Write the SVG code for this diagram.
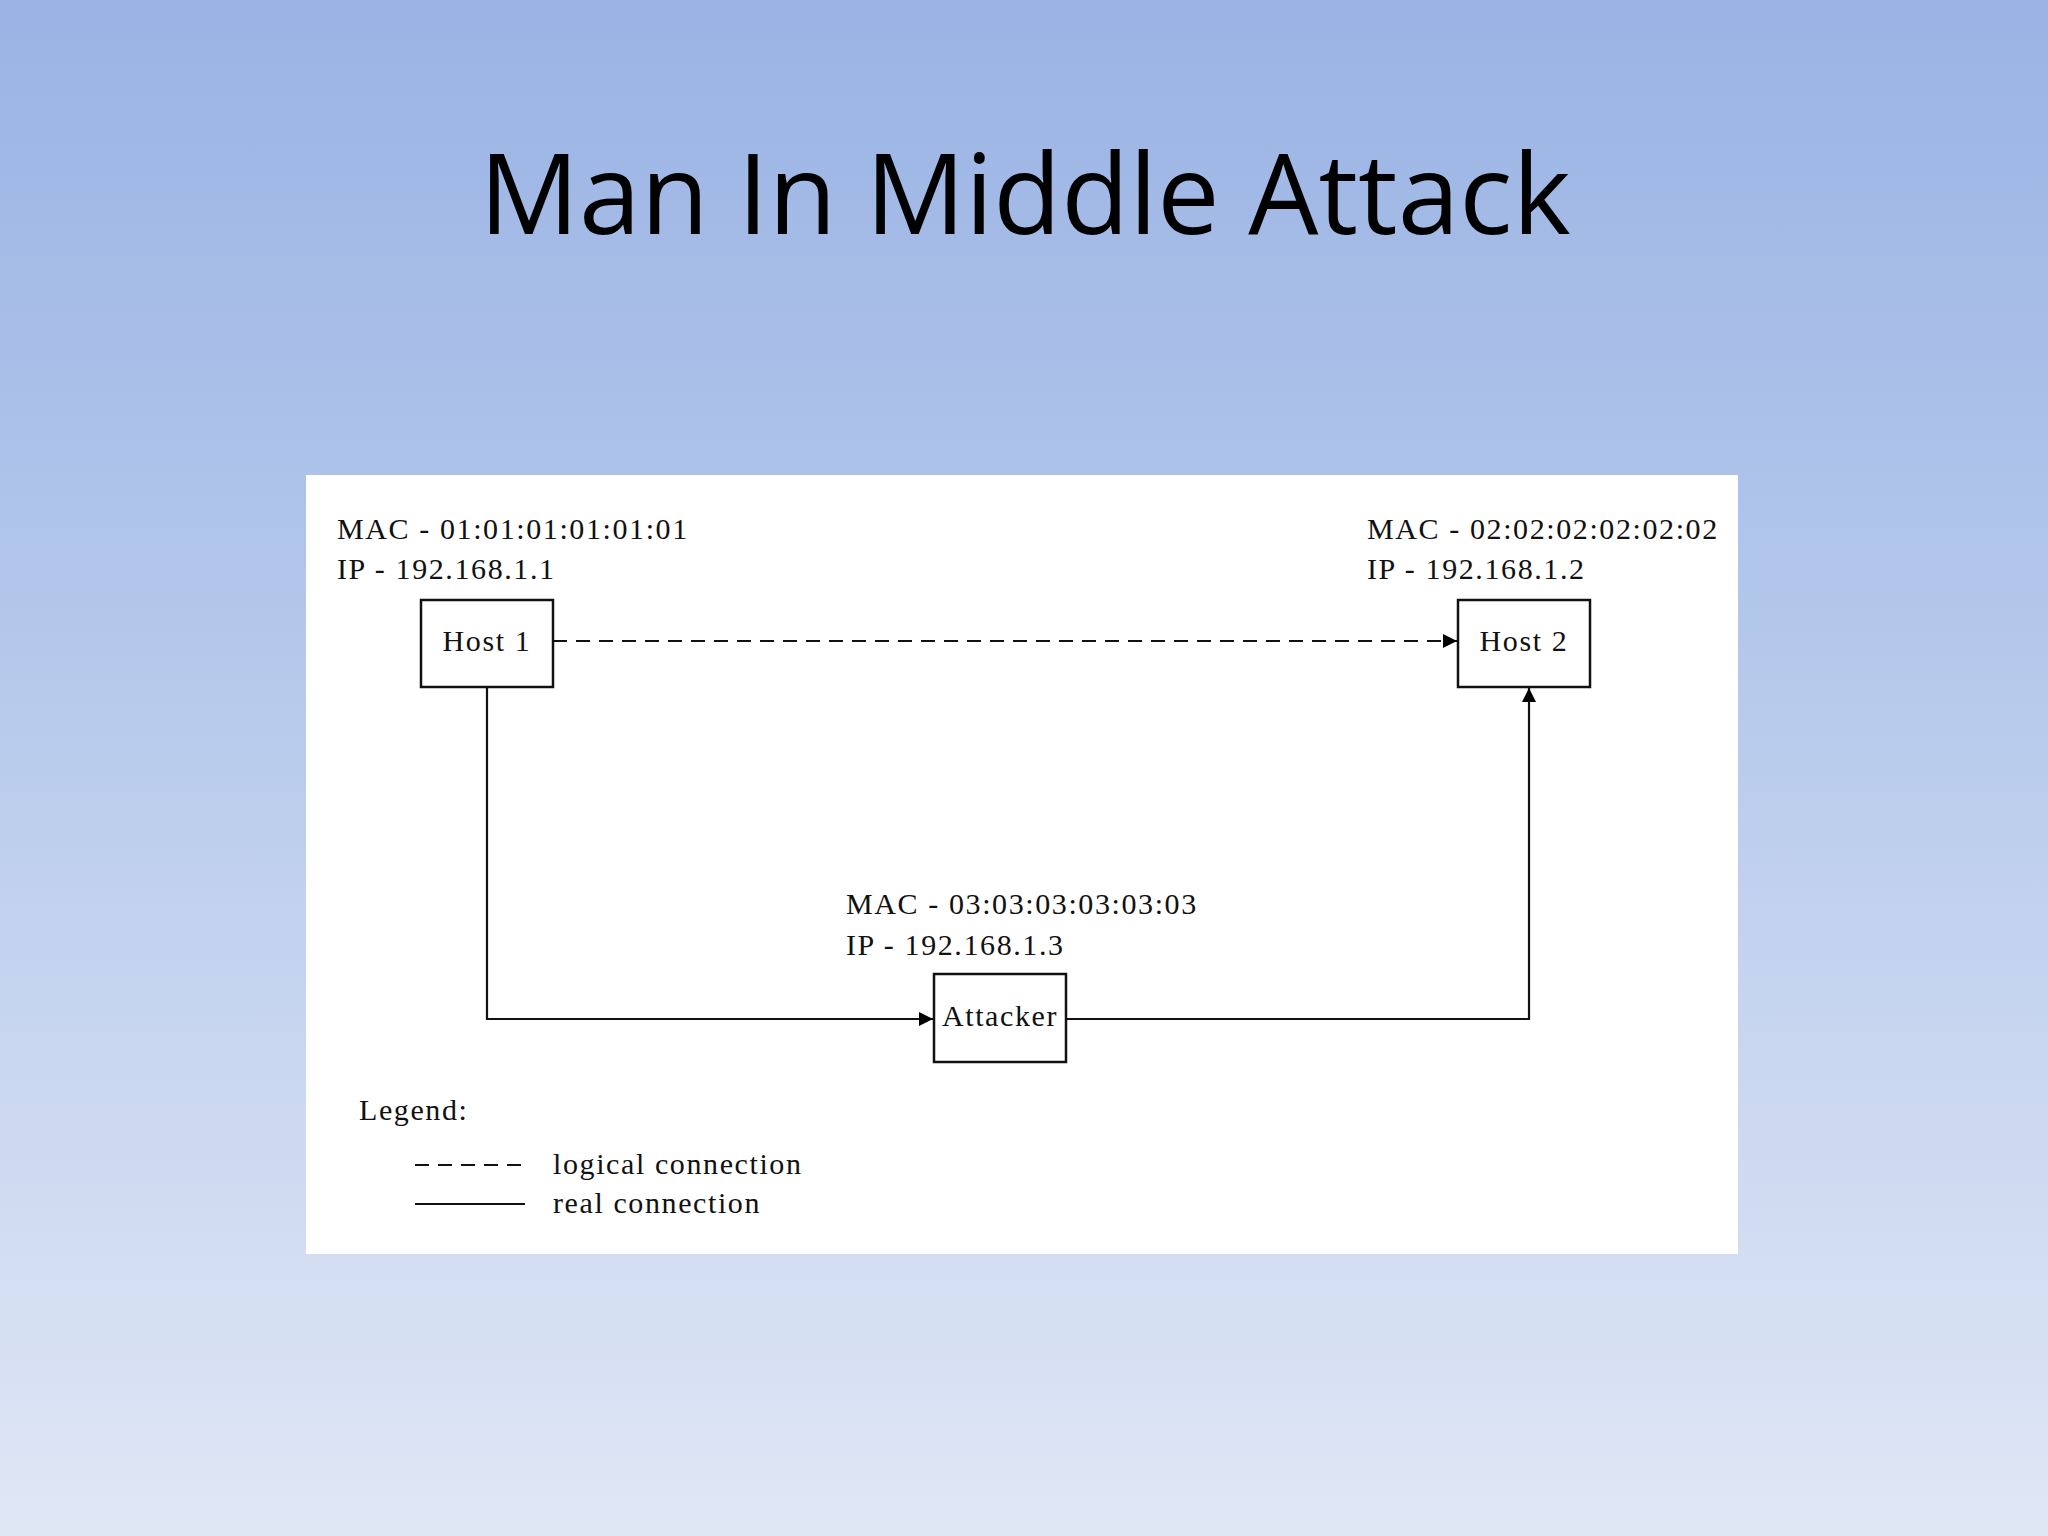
<svg xmlns="http://www.w3.org/2000/svg" width="2048" height="1536" viewBox="0 0 2048 1536">
<defs>
<linearGradient id="bg" x1="0" y1="0" x2="0" y2="1">
<stop offset="0" stop-color="#9ab3e4"/>
<stop offset="0.4" stop-color="#b3c7eb"/>
<stop offset="1" stop-color="#e0e7f5"/>
</linearGradient>
<marker id="ah" viewBox="0 0 10 10" refX="10" refY="5" markerWidth="14" markerHeight="14" orient="auto" markerUnits="userSpaceOnUse">
<path d="M0,0 L10,5 L0,10 Z" fill="#000"/>
</marker>
<style>
.t{font-family:"Liberation Serif",serif;font-size:30px;fill:#111;letter-spacing:1.6px}
.box{fill:#fff;stroke:#111;stroke-width:2.5}
.ln{fill:none;stroke:#111;stroke-width:2.2}
</style>
</defs>
<rect width="2048" height="1536" fill="url(#bg)"/>
<text x="1025" y="234" text-anchor="middle" font-family="'Open Sans','Liberation Sans',sans-serif" font-size="111" fill="#000">Man In Middle Attack</text>
<rect x="306" y="475" width="1432" height="779" fill="#fff"/>
<g id="connectors">
<line class="ln" x1="553" y1="641" x2="1457" y2="641" stroke-dasharray="14,9" marker-end="url(#ah)"/>
<polyline class="ln" points="487,687 487,1019 933,1019" marker-end="url(#ah)"/>
<polyline class="ln" points="1066,1019 1529,1019 1529,688" marker-end="url(#ah)"/>
</g>
<g id="host1">
<text class="t" x="337" y="539">MAC - 01:01:01:01:01:01</text>
<text class="t" x="337" y="579">IP - 192.168.1.1</text>
<rect class="box" x="421" y="600" width="132" height="87"/>
<text class="t" x="487" y="651" text-anchor="middle">Host 1</text>
</g>
<g id="host2">
<text class="t" x="1367" y="539">MAC - 02:02:02:02:02:02</text>
<text class="t" x="1367" y="579">IP - 192.168.1.2</text>
<rect class="box" x="1458" y="600" width="132" height="87"/>
<text class="t" x="1524" y="651" text-anchor="middle">Host 2</text>
</g>
<g id="attacker">
<text class="t" x="846" y="914">MAC - 03:03:03:03:03:03</text>
<text class="t" x="846" y="955">IP - 192.168.1.3</text>
<rect class="box" x="934" y="974" width="132" height="88"/>
<text class="t" x="1000" y="1026" text-anchor="middle">Attacker</text>
</g>
<g id="legend">
<text class="t" x="359" y="1120">Legend:</text>
<line class="ln" x1="415" y1="1165" x2="525" y2="1165" stroke-dasharray="14,9"/>
<line class="ln" x1="415" y1="1204" x2="525" y2="1204"/>
<text class="t" x="553" y="1174">logical connection</text>
<text class="t" x="553" y="1213">real connection</text>
</g>
</svg>
